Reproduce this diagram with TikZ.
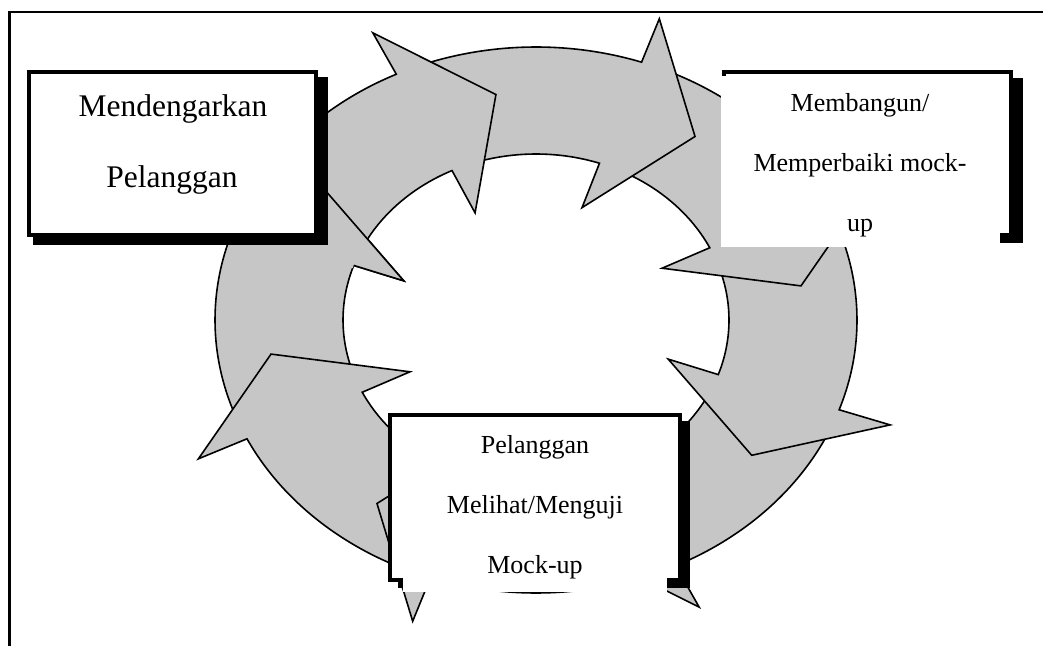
\documentclass[tikz,border=0pt]{standalone}
\usepackage{fontspec}
\setmainfont{Liberation Serif}
\definecolor{ringgray}{RGB}{198,198,198}
\tikzset{
  ringfill/.style={fill=ringgray},
  ringedge/.style={draw=black, line width=1.6pt, line join=miter, miter limit=20},
  boxframe/.style={draw=black, line width=4.5pt, fill=white},
  boxshadow/.style={fill=black},
  boxcover/.style={fill=white},
  bigtext/.style={font=\fontsize{31.5}{31.5}\selectfont, anchor=base, inner sep=0pt},
  smalltext/.style={font=\fontsize{26}{26}\selectfont, anchor=base, inner sep=0pt},
}
\begin{document}
\begin{tikzpicture}[x=1pt, y=1pt]
\useasboundingbox (0,0) rectangle (1043,646);
\fill[white] (0,0) rectangle (1043,646);

% outer frame: top and left rules
\draw[line width=1.3pt] (8,634) -- (1043,634);
\draw[line width=3.2pt] (9.5,634.6) -- (9.5,0);

% ring of eight curved arrows, clockwise; each head hides the next tail
\begin{scope}[shift={(536,326)}]
\foreach \b in {160.8,205.8,250.8,295.8,340.8,385.8,430.8,475.8}{
  \pgfmathsetmacro{\rbk}{\b}
  \pgfmathsetmacro{\rtip}{\b-17.2}
  \pgfmathsetmacro{\rtail}{\b+42}
  \fill[ringfill] (\rtail:321 and 273)
    arc[start angle=\rtail, end angle=\rbk, x radius=321, y radius=273]
    -- (\rbk:375 and 319) -- (\rtip:268 and 228) -- (\rbk:140 and 119)
    -- (\rbk:193 and 166)
    arc[start angle=\rbk, end angle=\rtail, x radius=193, y radius=166]
    -- cycle;
  \draw[ringedge] (\rtail:321 and 273)
    arc[start angle=\rtail, end angle=\rbk, x radius=321, y radius=273]
    -- (\rbk:375 and 319) -- (\rtip:268 and 228) -- (\rbk:140 and 119)
    -- (\rbk:193 and 166)
    arc[start angle=\rbk, end angle=\rtail, x radius=193, y radius=166];
}
% head of the first arrow again, on top of the last tail
\fill[ringfill] (161.8:321 and 273)
  arc[start angle=161.8, end angle=160.8, x radius=321, y radius=273]
  -- (160.8:375 and 319) -- (143.6:268 and 228) -- (160.8:140 and 119)
  -- (160.8:193 and 166)
  arc[start angle=160.8, end angle=161.8, x radius=193, y radius=166]
  -- cycle;
\draw[ringedge] (160.8:321 and 273) -- (160.8:375 and 319)
  -- (143.6:268 and 228) -- (160.8:140 and 119) -- (160.8:193 and 166);
\end{scope}

% box: Mendengarkan Pelanggan
\fill[boxshadow] (33,401) rectangle (328,569);
\draw[boxframe, line width=4pt] (29,411) rectangle (316,574);
\node[bigtext] (listen1) at (173,529) {Mendengarkan};
\node[bigtext] (listen2) at (172,458) {Pelanggan};

% box: Membangun / Memperbaiki mock-up
\fill[boxshadow] (732,403) rectangle (1023,568);
\draw[boxframe, line width=4pt] (724,411) rectangle (1011,574);
\fill[boxcover] (721,399) rectangle (1000,570);
\node[smalltext] (build1) at (860,534) {Membangun/};
\node[smalltext] (build2) at (860,474) {Memperbaiki mock-};
\node[smalltext] (build3) at (860,414) {up};

% box: Pelanggan Melihat/Menguji Mock-up
\fill[boxshadow] (398,58) rectangle (690,225);
\draw[boxframe] (390,66) rectangle (680,231);
\fill[boxcover] (403,54) rectangle (667,227);
\node[smalltext] (test1) at (535,193) {Pelanggan};
\node[smalltext] (test2) at (535,133) {Melihat/Menguji};
\node[smalltext] (test3) at (535,73) {Mock-up};
\end{tikzpicture}
\end{document}
